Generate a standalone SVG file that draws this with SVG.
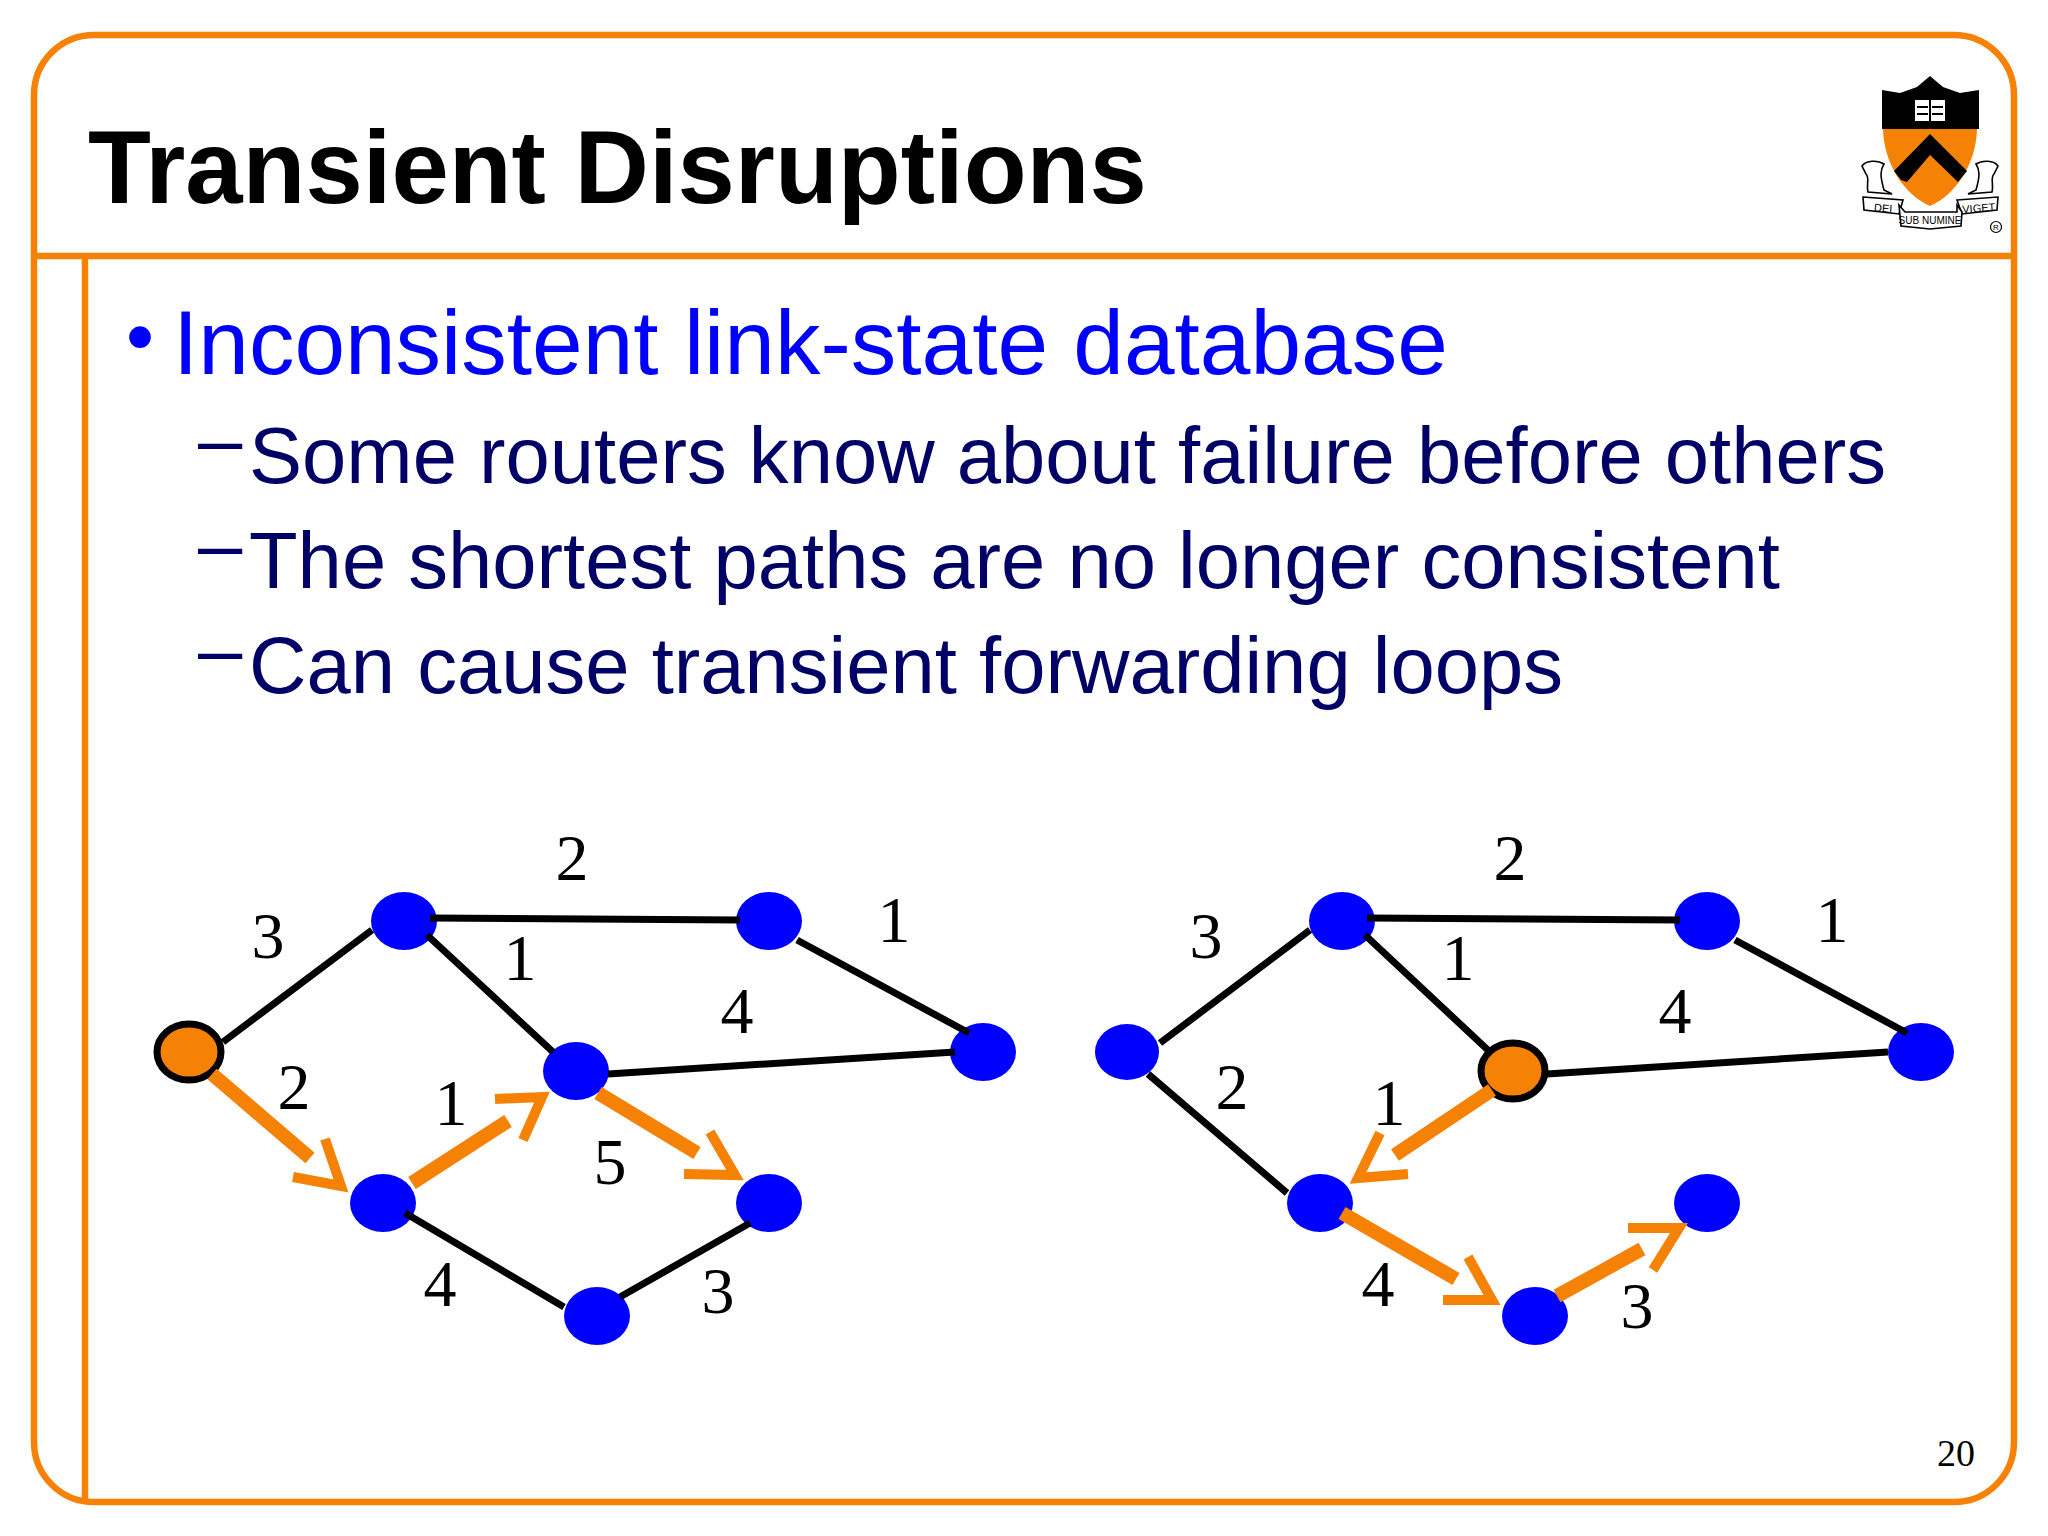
<svg xmlns="http://www.w3.org/2000/svg" width="2048" height="1536" viewBox="0 0 2048 1536">
<style>
.f{fill:none;stroke:#f58105;stroke-width:6.5}
.e{stroke:#000;stroke-width:7;fill:none}
.a{stroke:#f58105;stroke-width:14;fill:none}
.h{stroke:#f58105;stroke-width:10;fill:none;stroke-miterlimit:10}
.n{fill:#0000ff}
.o{fill:#f58105;stroke:#000;stroke-width:7}
.l{font-family:"Liberation Serif",serif;font-size:66px;fill:#000;text-anchor:middle}
.s{font-family:"Liberation Sans",Arial,sans-serif;font-size:79.6px;fill:#000066}
.t{font-family:"Liberation Sans",Arial,sans-serif;font-size:11px;fill:#000;text-anchor:middle}
.w{fill:#fff;stroke:#000;stroke-width:1.6}
</style>
<rect width="2048" height="1536" fill="#fff"/>
<g id="frame"><rect class="f" x="34" y="35" width="1980" height="1467" rx="60"/><path class="f" d="M34 256H2014M85 256V1502"/></g>
<text x="88" y="203" font-family="Liberation Sans,Arial,sans-serif" font-weight="700" font-size="103" fill="#000">Transient Disruptions</text>
<text x="126" y="364" font-family="Liberation Sans,Arial,sans-serif" font-size="80" fill="#0000ff">•</text>
<text x="173" y="374" font-family="Liberation Sans,Arial,sans-serif" font-size="91" fill="#0000ff">Inconsistent link-state database</text>
<g class="s"><text x="198" y="467">–</text><text x="249" y="483">Some routers know about failure before others</text>
<text x="198" y="572">–</text><text x="249" y="588">The shortest paths are no longer consistent</text>
<text x="198" y="677">–</text><text x="249" y="693">Can cause transient forwarding loops</text></g>
<g id="logo">
<path d="M1882 90L1900 93L1917 87L1930 76L1943 87L1960 93L1979 90V129H1882Z" fill="#000"/>
<path d="M1883 129H1977C1976 165 1955 195 1930 206C1905 195 1884 165 1883 129Z" fill="#f58105"/>
<path d="M1894 171L1930 134L1967 171L1958 182L1930 155L1907 182L1901 180Z" fill="#000"/>
<path d="M1915 100H1945V121H1915Z" fill="#fff"/>
<path d="M1930 100V121M1917 107H1928M1932 107H1943M1917 114H1928M1932 114H1943" stroke="#000" stroke-width="2" fill="none"/>
<path d="M1862 166C1866 160 1878 160 1884 164C1880 170 1880 176 1884 190L1892 194L1868 192C1866 184 1870 178 1866 174Z" class="w"/>
<path d="M1998 166C1994 160 1982 160 1976 164C1980 170 1980 176 1976 190L1968 194L1992 192C1994 184 1990 178 1994 174Z" class="w"/>
<path class="w" d="M1863 197L1903 200L1899 214L1864 210Z"/>
<path class="w" d="M1957 200L1998 197L1997 210L1962 214Z"/>
<path class="w" d="M1899 205L1905 212H1957V205L1962 212L1961 226L1930 229L1901 226Z"/>
<text class="t" x="1883" y="212" transform="rotate(4 1883 212)">DEI</text>
<text class="t" x="1930" y="224" style="font-size:10px">SUB NUMINE</text>
<text class="t" x="1979" y="212" transform="rotate(-4 1979 212)">VIGET</text>
<circle cx="1996" cy="227" r="5.5" fill="none" stroke="#000" stroke-width="1.2"/><text class="t" x="1996" y="230" style="font-size:8px">R</text>
</g>
<g id="nodes">
<ellipse id="n1" class="o" cx="189" cy="1052" rx="32" ry="28"/>
<ellipse class="n" cx="404" cy="921" rx="33" ry="29"/><ellipse class="n" cx="769" cy="921" rx="33" ry="29"/><ellipse class="n" cx="576" cy="1071" rx="33" ry="29"/><ellipse class="n" cx="983" cy="1052" rx="33" ry="29"/><ellipse class="n" cx="383" cy="1203" rx="33" ry="29"/><ellipse class="n" cx="769" cy="1203" rx="33" ry="29"/><ellipse class="n" cx="597" cy="1316" rx="33" ry="29"/>
<ellipse class="n" cx="1127" cy="1052" rx="32" ry="28"/><ellipse class="n" cx="1342" cy="921" rx="33" ry="29"/><ellipse class="n" cx="1707" cy="921" rx="33" ry="29"/><ellipse class="o" cx="1513" cy="1071" rx="32" ry="28"/><ellipse class="n" cx="1921" cy="1052" rx="33" ry="29"/><ellipse class="n" cx="1320" cy="1203" rx="33" ry="29"/><ellipse class="n" cx="1707" cy="1203" rx="33" ry="29"/><ellipse class="n" cx="1535" cy="1316" rx="33" ry="29"/>
</g>
<g id="edges">
<path class="e" d="M223 1042L372 930M430 918L740 920M427 935L553 1052M608 1074L955 1052M797 940L969 1033M405 1213L564 1307M620 1297L750 1223"/>
<path class="e" d="M1160 1043L1310 930M1367 918L1680 920M1365 935L1490 1052M1547 1074L1888 1052M1735 940L1907 1033M1148 1074L1287 1193"/>
</g>
<g id="arrows">
<path class="a" d="M212 1074L310 1158M412 1183L508 1121M598 1093L697 1153"/>
<path class="h" d="M325 1139L341 1186L293 1177M495 1099L542 1097L523 1140M710 1132L735 1175L684 1174"/>
<path class="a" d="M1492 1090L1395 1155M1342 1213L1456 1279M1557 1296L1642 1249"/>
<path class="h" d="M1380 1133L1358 1178L1408 1174M1468 1257L1492 1300L1443 1300M1628 1228L1679 1228L1653 1270"/>
</g>
<g id="labels" class="l">
<text x="268" y="958">3</text><text x="572" y="880">2</text><text x="520" y="980">1</text><text x="894" y="942">1</text><text x="737" y="1033">4</text><text x="294" y="1109">2</text><text x="451" y="1125">1</text><text x="610" y="1184">5</text><text x="440" y="1306">4</text><text x="718" y="1313">3</text>
<text x="1206" y="958">3</text><text x="1510" y="880">2</text><text x="1458" y="980">1</text><text x="1832" y="942">1</text><text x="1675" y="1033">4</text><text x="1232" y="1109">2</text><text x="1389" y="1125">1</text><text x="1378" y="1306">4</text><text x="1637" y="1328">3</text>
</g>
<text x="1956" y="1466" font-family="Liberation Serif,serif" font-size="38" fill="#000" text-anchor="middle">20</text>
</svg>
